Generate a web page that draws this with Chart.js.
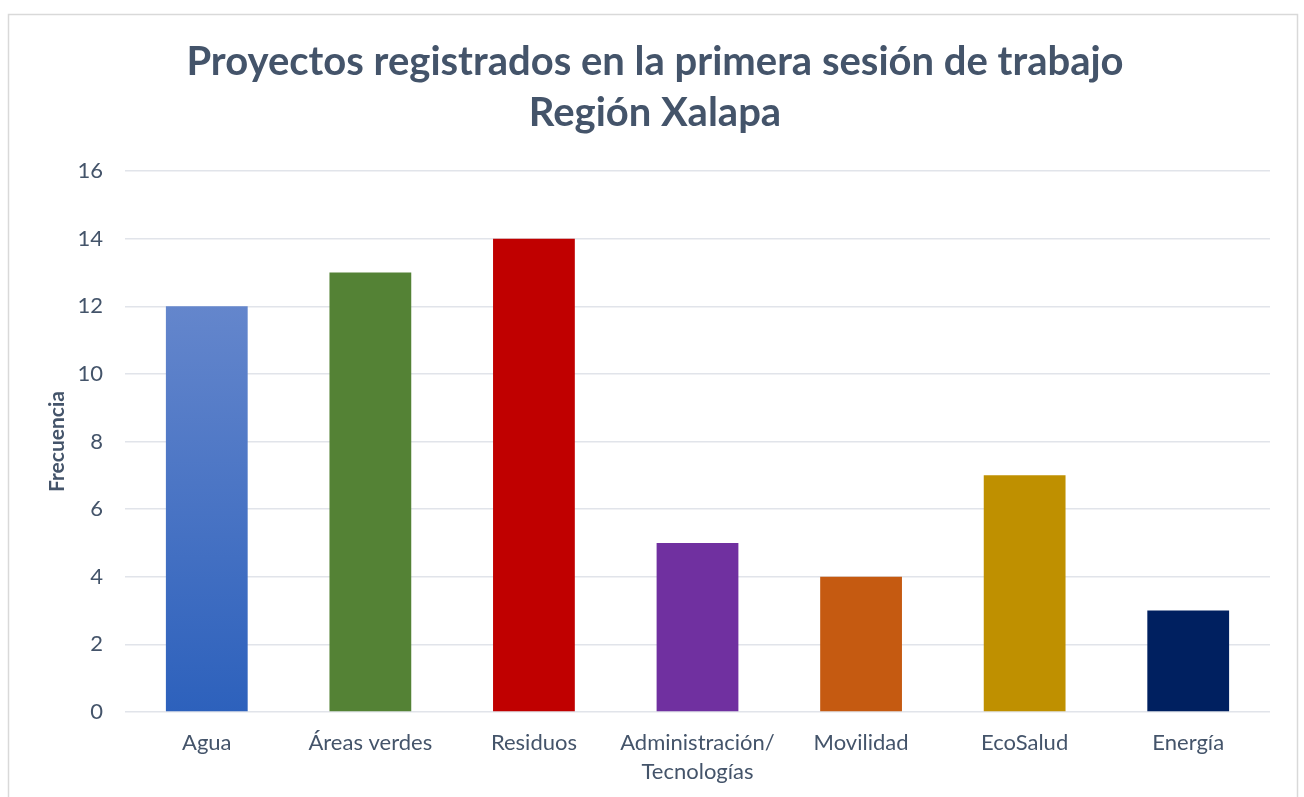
<!DOCTYPE html>
<html>
<head>
<meta charset="utf-8">
<script src="https://cdn.jsdelivr.net/npm/chart.js@4.4.0/dist/chart.umd.min.js"></script>
<style>
  html, body { margin: 0; padding: 0; background: #fff; }
  #wrap { width: 1304px; height: 797px; position: relative; }
</style>
</head>
<body>
<div id="wrap"><canvas id="chart" width="1304" height="797"></canvas></div>
<script>
// Datos del gráfico
const categories = ['Agua', 'Áreas verdes', 'Residuos', ['Administración/', 'Tecnologías'], 'Movilidad', 'EcoSalud', 'Energía'];
const frequencies = [12, 13, 14, 5, 4, 7, 3];
const barColors = ['#3F6FC6', '#548235', '#C00000', '#7030A0', '#C55A11', '#BF9000', '#002060'];
const titleLines = ['Proyectos registrados en la primera sesión de trabajo', 'Región Xalapa'];

const textColor = '#44546A';
const fontFamily = 'Lato, "Open Sans", sans-serif';

// Marco exterior del gráfico
const framePlugin = {
    id: 'frame',
    beforeDraw(chart) {
        const ctx = chart.ctx;
        ctx.save();
        ctx.fillStyle = '#fff';
        ctx.fillRect(0, 0, chart.width, chart.height);
        ctx.strokeStyle = '#D9D9D9';
        ctx.lineWidth = 1.5;
        ctx.strokeRect(8.5, 14.5, 1289, 800);
        ctx.restore();
    }
};

// Degradado para la barra de Agua
function barFill(context) {
    const i = context.dataIndex;
    if (i !== 0) return barColors[i];
    const chart = context.chart;
    const y = chart.scales.y;
    if (!y || !chart.chartArea) return barColors[0];
    const top = y.getPixelForValue(frequencies[0]);
    const bottom = y.getPixelForValue(0);
    const g = chart.ctx.createLinearGradient(0, top, 0, bottom);
    g.addColorStop(0, '#6486CC');
    g.addColorStop(1, '#2D61BC');
    return g;
}

new Chart(document.getElementById('chart'), {
    type: 'bar',
    data: {
        labels: categories,
        datasets: [{
            label: 'Frecuencia',
            data: frequencies,
            backgroundColor: barFill,
            borderWidth: 0,
            barPercentage: 0.5,
            categoryPercentage: 1.0
        }]
    },
    plugins: [framePlugin],
    options: {
        responsive: false,
        animation: false,
        layout: {
            padding: { left: 40, right: 34, top: 22, bottom: 0 }
        },
        plugins: {
            legend: { display: false },
            tooltip: { enabled: false },
            title: {
                display: true,
                text: titleLines,
                color: textColor,
                font: { family: fontFamily, size: 40, weight: 'bold', lineHeight: 1.275 },
                padding: { top: 15, bottom: 32 }
            }
        },
        scales: {
            x: {
                afterFit(scale) { scale.height = 85; },
                grid: { display: false },
                border: { display: false },
                ticks: {
                    color: textColor,
                    font: { family: fontFamily, size: 22, lineHeight: 1.3 },
                    maxRotation: 0,
                    padding: 9
                }
            },
            y: {
                min: 0,
                max: 16,
                afterFit(scale) { scale.width = 85; },
                ticks: {
                    stepSize: 2,
                    color: textColor,
                    font: { family: fontFamily, size: 22 },
                    padding: 22
                },
                grid: { color: '#E1E4EA', lineWidth: 1.5, drawTicks: false },
                border: { display: false },
                title: {
                    display: true,
                    text: 'Frecuencia',
                    color: textColor,
                    font: { family: fontFamily, size: 21, weight: 'bold' },
                    padding: { top: 5, bottom: 0 }
                }
            }
        }
    }
});
</script>
</body>
</html>
